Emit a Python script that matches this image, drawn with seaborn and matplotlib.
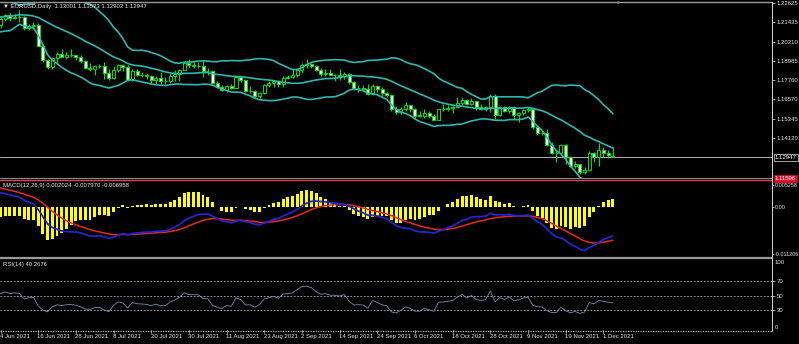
import numpy as np
import pandas as pd
import matplotlib
matplotlib.use("Agg")
import matplotlib.pyplot as plt
import matplotlib.transforms as mtransforms
from matplotlib.lines import Line2D
import seaborn as sns

# ------------------------------------------------------------------ data
title_text = "\u25BC EURUSD,Daily  1.13001 1.13573 1.12902 1.12947"
macd_title = "MACD(12,26,9) 0.002024 -0.007970 -0.006958"
rsi_title = "RSI(14) 40.2676"

first_date = "2021-06-04"
last_date = "2021-12-03"

# daily closes before the visible window (Mar 1 - Jun 3 2021), scrolled off to the left
warmup_closes = [
    1.2047, 1.2091, 1.2063, 1.1966, 1.1917, 1.1848, 1.1899, 1.1928, 1.1985, 1.1952,
    1.1930, 1.1903, 1.1979, 1.1915, 1.1904, 1.1937, 1.1850, 1.1814, 1.1765, 1.1793,
    1.1764, 1.1717, 1.1730, 1.1779, 1.1763, 1.1813, 1.1872, 1.1870, 1.1916, 1.1900,
    1.1911, 1.1947, 1.1979, 1.1966, 1.1983, 1.2037, 1.2035, 1.2036, 1.2013, 1.2097,
    1.2082, 1.2089, 1.2127, 1.2121, 1.2020, 1.2062, 1.2015, 1.2005, 1.2065, 1.2165,
    1.2130, 1.2149, 1.2075, 1.2080, 1.2145, 1.2150, 1.2224, 1.2175, 1.2226, 1.2180,
    1.2214, 1.2249, 1.2193, 1.2193, 1.2193, 1.2227, 1.2213, 1.2214, 1.2127,
]

opens = [
    1.2127, 1.2166, 1.2190, 1.2172, 1.2179, 1.2174, 1.2107, 1.2121, 1.2125, 1.1996,
    1.1906, 1.1860, 1.1917, 1.1940, 1.1925, 1.1934, 1.1936, 1.1925, 1.1896, 1.1857,
    1.1848, 1.1864, 1.1866, 1.1823, 1.1790, 1.1842, 1.1875, 1.1859, 1.1776, 1.1834,
    1.1810, 1.1807, 1.1802, 1.1780, 1.1794, 1.1771, 1.1771, 1.1802, 1.1817, 1.1843,
    1.1886, 1.1870, 1.1869, 1.1868, 1.1834, 1.1833, 1.1761, 1.1736, 1.1718, 1.1738,
    1.1729, 1.1796, 1.1778, 1.1710, 1.1711, 1.1676, 1.1697, 1.1749, 1.1758, 1.1772,
    1.1752, 1.1794, 1.1797, 1.1807, 1.1840, 1.1875, 1.1880, 1.1869, 1.1841, 1.1818,
    1.1823, 1.1812, 1.1810, 1.1805, 1.1815, 1.1764, 1.1726, 1.1728, 1.1724, 1.1690,
    1.1740, 1.1720, 1.1694, 1.1683, 1.1597, 1.1579, 1.1595, 1.1620, 1.1596, 1.1554,
    1.1554, 1.1572, 1.1552, 1.1528, 1.1594, 1.1595, 1.1601, 1.1607, 1.1632, 1.1655,
    1.1625, 1.1644, 1.1608, 1.1597, 1.1605, 1.1680, 1.1558, 1.1607, 1.1580, 1.1610,
    1.1555, 1.1567, 1.1587, 1.1595, 1.1479, 1.1446, 1.1445, 1.1369, 1.1320, 1.1319,
    1.1370, 1.1291, 1.1237, 1.1250, 1.1197, 1.1210, 1.1318, 1.1290, 1.1336, 1.1320,
    1.13001,
]

highs = [
    1.2185, 1.2197, 1.2200, 1.2195, 1.2218, 1.2180, 1.2132, 1.2144, 1.2137, 1.2004,
    1.1911, 1.1921, 1.1953, 1.1974, 1.1952, 1.1975, 1.1937, 1.1933, 1.1905, 1.1886,
    1.1876, 1.1882, 1.1895, 1.1850, 1.1868, 1.1880, 1.1880, 1.1872, 1.1848, 1.1845,
    1.1827, 1.1825, 1.1810, 1.1806, 1.1830, 1.1798, 1.1823, 1.1841, 1.1848, 1.1892,
    1.1908, 1.1892, 1.1893, 1.1900, 1.1851, 1.1840, 1.1771, 1.1746, 1.1745, 1.1752,
    1.1802, 1.1806, 1.1785, 1.1740, 1.1713, 1.1703, 1.1752, 1.1770, 1.1772, 1.1781,
    1.1802, 1.1810, 1.1845, 1.1857, 1.1884, 1.1909, 1.1887, 1.1873, 1.1857, 1.1845,
    1.1847, 1.1816, 1.1846, 1.1830, 1.1820, 1.1775, 1.1749, 1.1748, 1.1750, 1.1750,
    1.1745, 1.1732, 1.1701, 1.1688, 1.1612, 1.1610, 1.1640, 1.1622, 1.1602, 1.1580,
    1.1593, 1.1580, 1.1562, 1.1597, 1.1624, 1.1623, 1.1612, 1.1669, 1.1668, 1.1660,
    1.1665, 1.1646, 1.1624, 1.1617, 1.1692, 1.1691, 1.1615, 1.1614, 1.1616, 1.1617,
    1.1577, 1.1593, 1.1608, 1.1600, 1.1481, 1.1464, 1.1466, 1.1385, 1.1335, 1.1374,
    1.1375, 1.1300, 1.1264, 1.1251, 1.1228, 1.1327, 1.1325, 1.1383, 1.1353, 1.1334,
    1.13573,
]

lows = [
    1.2104, 1.2150, 1.2153, 1.2164, 1.2144, 1.2093, 1.2094, 1.2105, 1.1992, 1.1893,
    1.1847, 1.1848, 1.1885, 1.1922, 1.1913, 1.1922, 1.1902, 1.1883, 1.1846, 1.1834,
    1.1807, 1.1854, 1.1782, 1.1781, 1.1782, 1.1829, 1.1836, 1.1772, 1.1772, 1.1806,
    1.1797, 1.1786, 1.1753, 1.1756, 1.1752, 1.1755, 1.1760, 1.1771, 1.1774, 1.1839,
    1.1852, 1.1855, 1.1853, 1.1800, 1.1813, 1.1754, 1.1729, 1.1706, 1.1705, 1.1719,
    1.1725, 1.1763, 1.1703, 1.1694, 1.1665, 1.1664, 1.1690, 1.1735, 1.1734, 1.1735,
    1.1737, 1.1785, 1.1790, 1.1800, 1.1825, 1.1857, 1.1853, 1.1833, 1.1804, 1.1801,
    1.1808, 1.1770, 1.1781, 1.1784, 1.1751, 1.1718, 1.1700, 1.1714, 1.1684, 1.1686,
    1.1700, 1.1680, 1.1670, 1.1585, 1.1563, 1.1564, 1.1580, 1.1575, 1.1529, 1.1546,
    1.1540, 1.1540, 1.1524, 1.1525, 1.1584, 1.1585, 1.1571, 1.1600, 1.1620, 1.1618,
    1.1619, 1.1590, 1.1586, 1.1585, 1.1575, 1.1535, 1.1553, 1.1577, 1.1571, 1.1529,
    1.1513, 1.1555, 1.1575, 1.1466, 1.1432, 1.1433, 1.1363, 1.1309, 1.1262, 1.1312,
    1.1250, 1.1226, 1.1225, 1.1186, 1.1185, 1.1205, 1.1258, 1.1235, 1.1293, 1.1283,
    1.12902,
]

closes = [
    1.2166, 1.2190, 1.2172, 1.2179, 1.2174, 1.2107, 1.2121, 1.2125, 1.1996, 1.1906,
    1.1860, 1.1917, 1.1940, 1.1925, 1.1934, 1.1936, 1.1925, 1.1896, 1.1857, 1.1848,
    1.1864, 1.1866, 1.1823, 1.1790, 1.1842, 1.1875, 1.1859, 1.1776, 1.1834, 1.1810,
    1.1807, 1.1802, 1.1780, 1.1794, 1.1771, 1.1771, 1.1802, 1.1817, 1.1843, 1.1886,
    1.1870, 1.1869, 1.1868, 1.1834, 1.1833, 1.1761, 1.1736, 1.1718, 1.1738, 1.1729,
    1.1796, 1.1778, 1.1710, 1.1711, 1.1676, 1.1697, 1.1749, 1.1758, 1.1772, 1.1752,
    1.1794, 1.1797, 1.1807, 1.1840, 1.1875, 1.1880, 1.1869, 1.1841, 1.1818, 1.1823,
    1.1812, 1.1810, 1.1805, 1.1815, 1.1764, 1.1726, 1.1728, 1.1724, 1.1690, 1.1740,
    1.1720, 1.1694, 1.1683, 1.1597, 1.1579, 1.1595, 1.1620, 1.1596, 1.1554, 1.1554,
    1.1572, 1.1552, 1.1528, 1.1594, 1.1595, 1.1601, 1.1607, 1.1632, 1.1655, 1.1625,
    1.1644, 1.1608, 1.1597, 1.1605, 1.1680, 1.1558, 1.1607, 1.1580, 1.1610, 1.1555,
    1.1567, 1.1587, 1.1595, 1.1479, 1.1446, 1.1445, 1.1369, 1.1320, 1.1319, 1.1370,
    1.1291, 1.1237, 1.1250, 1.1197, 1.1210, 1.1318, 1.1290, 1.1336, 1.1320, 1.1303,
    1.12947,
]

price_ticks = [1.22625, 1.21435, 1.20210, 1.18985, 1.17760, 1.16570, 1.15345, 1.14120]
price_labels = ["1.22625", "1.21435", "1.20210", "1.18985", "1.17760", "1.16570", "1.15345", "1.14120"]
current_price = 1.12947
current_label = "1.12947"
alert_label = "1.11596"
macd_ticks = [0.005258, 0.0, -0.011206]
macd_labels = ["0.005258", "0.00", "-0.011206"]
rsi_levels = [70, 50, 30]
rsi_level_labels = ["70", "50", "30"]
rsi_top_label = "100"
rsi_bottom_label = "0"

# ------------------------------------------------------------------ indicators
all_close = pd.Series(warmup_closes + closes, dtype=float)
idx_all = np.arange(len(all_close)) - len(warmup_closes)
mid = all_close.rolling(20).mean()
sd = all_close.rolling(20).std(ddof=0)
bb_up = mid + 2 * sd
bb_lo = mid - 2 * sd
ema12 = all_close.ewm(span=12, adjust=False).mean()
ema26 = all_close.ewm(span=26, adjust=False).mean()
macd = ema12 - ema26
signal = macd.ewm(span=9, adjust=False).mean()
hist = 2 * (macd - signal)
delta = all_close.diff()
gain = delta.clip(lower=0).ewm(alpha=1 / 14, adjust=False).mean()
loss = (-delta.clip(upper=0)).ewm(alpha=1 / 14, adjust=False).mean()
rsi = 100 - 100 / (1 + gain / loss)

# ------------------------------------------------------------------ figure
W, H = 799, 344
sns.set_theme(style="dark", rc={"figure.facecolor": "black", "axes.facecolor": "black",
                                "savefig.facecolor": "black"})
plt.rcParams["font.family"] = ["Liberation Sans", "DejaVu Sans"]

FS = 4.3
TXT = "#e6e6e6"
GREEN = "#00e400"
BAND = "#2cb8b0"

fig = plt.figure(figsize=(W / 100, H / 100), dpi=100)
fig.patch.set_facecolor("black")


def rect(x0, y0, x1, y1):
    return [x0 / W, 1 - y1 / H, (x1 - x0) / W, (y1 - y0) / H]


PXB = 4.71
RIGHT = 772
xlim = (-0.5 / PXB, (RIGHT - 0.5) / PXB)

ax_main = fig.add_axes(rect(0, 2, RIGHT, 178))
ax_macd = fig.add_axes(rect(0, 181, RIGHT, 256))
ax_rsi = fig.add_axes(rect(0, 259, RIGHT, 330))

for ax in (ax_main, ax_macd, ax_rsi):
    ax.set_facecolor("black")
    ax.set_xlim(*xlim)
    for s in ax.spines.values():
        s.set_visible(False)
    ax.grid(False)
    ax.set_xticks([])
    ax.yaxis.tick_right()
    ax.tick_params(axis="y", which="both", right=True, left=False, labelright=True,
                   labelleft=False, colors=TXT, labelsize=FS, length=2, width=0.5,
                   pad=1.5, direction="out")

# main price panel scale (px per price unit ~1584)
ax_main.set_ylim(1.22625 - (178 - 3.3) / 1584, 1.22625 + (3.3 - 2) / 1584)
# MACD panel scale (~4191 px per unit)
ax_macd.set_ylim(0.005258 - (256 - 185) / 4191, 0.005258 + (185 - 181) / 4191)
# RSI panel scale
ax_rsi.set_ylim(30 - (330 - 310) / 0.725, 70 + (281 - 259) / 0.725)

# ---- candles
x = np.arange(len(closes))
o = np.array(opens)
h = np.array(highs)
l = np.array(lows)
c = np.array(closes)
bull = c > o
ax_main.vlines(x, l, h, color=GREEN, lw=0.8, zorder=2)
bottom = np.minimum(o, c)
height = np.maximum(np.abs(c - o), 0.00003)
ax_main.bar(x[bull], height[bull], bottom=bottom[bull], width=0.64, color="black",
            edgecolor=GREEN, linewidth=0.7, zorder=3)
ax_main.bar(x[~bull], height[~bull], bottom=bottom[~bull], width=0.64, color="#f4fff4",
            edgecolor=GREEN, linewidth=0.7, zorder=3)

vis = idx_all >= -1
xv = idx_all[vis]
for band in (bb_up, mid, bb_lo):
    sns.lineplot(x=xv, y=band.values[vis], ax=ax_main, color=BAND, lw=1.2, zorder=4)
ax_main.axhline(current_price, color="#b4b4b4", lw=0.7, zorder=1)
ax_main.set_yticks(price_ticks)
ax_main.set_yticklabels(price_labels)

# ---- MACD
ax_macd.bar(xv, hist.values[vis], width=0.62, color="#ffff00", linewidth=0, zorder=2)
sns.lineplot(x=xv, y=signal.values[vis], ax=ax_macd, color="#e8281e", lw=1.1, zorder=3)
sns.lineplot(x=xv, y=macd.values[vis], ax=ax_macd, color="#2424d0", lw=1.3, zorder=4)
ax_macd.set_yticks(macd_ticks)
ax_macd.set_yticklabels(macd_labels)
ax_macd.tick_params(axis="y", labelsize=3.9, pad=0.8, length=1.5)

# ---- RSI
for lv in rsi_levels:
    ax_rsi.axhline(lv, color="#b8b8b8", lw=0.6, ls=(0, (2, 2)), zorder=1)
sns.lineplot(x=xv, y=rsi.values[vis], ax=ax_rsi, color="#7890c0", lw=0.6, zorder=3)
ax_rsi.set_yticks(rsi_levels)
ax_rsi.set_yticklabels(rsi_level_labels)

for ax in (ax_main, ax_macd, ax_rsi):
    ax.set_xlabel("")
    ax.set_ylabel("")
    if ax.get_legend() is not None:
        ax.get_legend().remove()

# ---- separators / frame lines
def hline_px(y, x0=0, x1=RIGHT, **kw):
    fig.add_artist(Line2D([x0 / W, x1 / W], [1 - y / H, 1 - y / H], **kw))


hline_px(2.0, color="#9a9a9a", lw=1.0)
hline_px(178.0, color="#8a8a8a", lw=0.8)
hline_px(179.6, color="#e0405a", lw=1.0)
hline_px(257.5, color="#9a9a9a", lw=1.6)
hline_px(330.5, color="#e8e8e8", lw=0.6, ls=(0, (1.5, 1.5)))
fig.add_artist(Line2D([RIGHT / W + 0.0006] * 2, [1 - 2 / H, 1 - 331 / H], color="#d8d8d8", lw=0.7))

# ---- texts
fig.text(3 / W, 1 - 6.2 / H, title_text, color=TXT, fontsize=FS, va="center", ha="left")
fig.text(3 / W, 1 - 185.5 / H, macd_title, color=TXT, fontsize=FS, va="center", ha="left")
fig.text(3 / W, 1 - 264.5 / H, rsi_title, color=TXT, fontsize=FS, va="center", ha="left")
fig.text(617 / W, 1 - 2.8 / H, "\u25BC", color="#a0a0a0", fontsize=3.2, va="center", ha="center")

fig.text(775 / W, 1 - 157.5 / H, current_label, color="white", fontsize=FS, va="center", ha="left",
         bbox=dict(boxstyle="square,pad=0.15", fc="black", ec="#e0e0e0", lw=0.5))
fig.text(775 / W, 1 - 178.3 / H, alert_label, color="white", fontsize=FS, va="center", ha="left",
         bbox=dict(boxstyle="square,pad=0.12", fc="#e0102a", ec="#e0102a", lw=0.5))
fig.text(775 / W, 1 - 262.5 / H, rsi_top_label, color=TXT, fontsize=FS, va="center", ha="left")
fig.text(775 / W, 1 - 327.5 / H, rsi_bottom_label, color=TXT, fontsize=FS, va="center", ha="left")

# ---- date axis
dates = pd.bdate_range(first_date, last_date)
blend = mtransforms.blended_transform_factory(ax_rsi.transData, ax_rsi.transAxes)
for i in range(0, len(dates), 8):
    d = dates[i]
    lab = f"{d.day} {d.strftime('%b %Y')}"
    ax_rsi.text(i - 0.15, -0.098, lab, transform=blend, color=TXT, fontsize=FS,
                ha="left", va="center", clip_on=False)
    ax_rsi.plot([i, i], [-0.005, -0.04], transform=blend, color="#d0d0d0", lw=0.5,
                clip_on=False)

fig.savefig("out.png", dpi=100, facecolor="black")
